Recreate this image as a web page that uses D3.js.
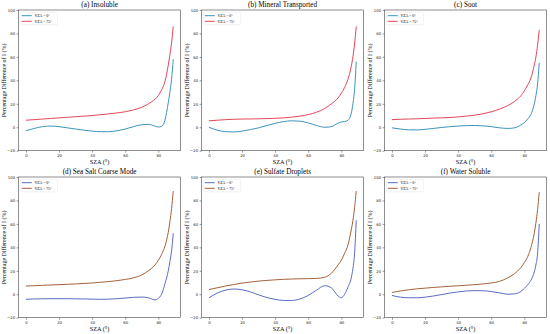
<!DOCTYPE html>
<html>
<head>
<meta charset="utf-8">
<script src="https://cdn.jsdelivr.net/npm/d3@7"></script>
<style>
  body { margin: 0; background: #fff; }
  svg { display: block; }
</style>
</head>
<body>
<script>
// SZA sample points shared by every panel
const sza = [0, 5, 10, 15, 20, 25, 30, 35, 40, 45, 50, 55, 60, 65, 70, 74, 78, 80, 82, 84, 86, 87, 88, 89];

const titles = ["(a) Insoluble", "(b) Mineral Transported", "(c) Soot",
                "(d) Sea Salt Coarse Mode", "(e) Sulfate Droplets", "(f) Water Soluble"];

const seriesNames = ["VZA = 0°", "VZA = 75°"];

// VZA = 0° curves
const insoluble0 = [-3, -1, 0.5, 1, 0.5, -0.5, -1.5, -2.5, -3.3, -3.8, -3.8, -3, -1.5, 0.5, 2.2, 2.5, 1, 0.2, 0.8, 6, 21, 30, 41, 58];
const mineral0   = [0, -2.5, -3.8, -4, -3.3, -2, -0.5, 1.5, 3.3, 4.8, 5.5, 5.2, 3.7, 1.5, 0, 0.5, 3.5, 4.5, 4.8, 6, 12, 20, 32, 56];
const soot0      = [-0.5, -1.5, -2.2, -2.3, -1.8, -1, -0.2, 0.5, 1, 1.4, 1.5, 1.2, 0.5, -0.5, -1, -0.5, 2, 4, 7, 11, 20, 27, 37, 55];
const seaSalt0   = [-4.3, -4, -3.9, -3.8, -3.8, -3.8, -3.9, -4, -4.2, -4.3, -4.2, -3.8, -3.2, -2.6, -2.4, -3, -4.8, -3.5, 0, 9, 20, 28, 37, 52];
const sulfate0   = [-3, 1, 3.5, 4.5, 3.8, 2, -0.5, -2.8, -4.3, -5.3, -5.3, -4, -1, 3.5, 7.3, 5.5, -1.5, -3, 0, 6, 14, 22, 35, 63];
const water0     = [-1, -2.5, -3, -3, -2.5, -1.5, -0.3, 1, 2, 2.8, 3.1, 3, 2.3, 1.2, 0, 0.3, 2.5, 5, 8, 12, 19, 25, 35, 60];

// VZA = 75° curves
const insoluble75 = [6, 6.5, 7, 7.5, 8, 8.5, 9, 9.5, 10, 10.7, 11.4, 12.2, 13.2, 14.8, 17, 20, 24, 27, 32, 39, 53, 62, 72, 86];
const mineral75   = [5.5, 6, 6.5, 6.8, 7, 7.1, 7.2, 7.4, 7.6, 8, 8.6, 9.5, 10.8, 12.8, 16, 20, 25, 29, 34, 41, 52, 60, 71, 86];
const soot75      = [6.5, 6.8, 7, 7.2, 7.5, 7.8, 8, 8.3, 8.8, 9.5, 10.3, 11.5, 13.2, 15.5, 18.5, 22, 27, 31, 36, 42, 53, 60, 70, 83];
const seaSalt75   = [7, 7.3, 7.6, 7.9, 8.2, 8.5, 8.8, 9.2, 9.6, 10.2, 10.8, 11.6, 12.6, 14, 16.5, 20, 25, 29, 34, 41, 53, 62, 73, 88];
const sulfate75   = [4, 5.5, 7, 8.3, 9.5, 10.4, 11.2, 11.8, 12.3, 12.7, 13, 13.2, 13.3, 13.5, 14.5, 18, 25, 29, 35, 42, 55, 63, 74, 88];
const water75     = [1.5, 2.8, 3.8, 4.6, 5.2, 5.8, 6.3, 6.8, 7.2, 7.7, 8.2, 8.8, 9.6, 11, 14, 17.5, 23, 27, 32, 40, 52, 61, 72, 87];

const vza0 = [insoluble0, mineral0, soot0, seaSalt0, sulfate0, water0];
const vza75 = [insoluble75, mineral75, soot75, seaSalt75, sulfate75, water75];

const xTicks = [0, 20, 40, 60, 80];
const yTicks = [-20, 0, 20, 40, 60, 80, 100];

// top row and bottom row use different palettes
const palettes = [["#3d93bd", "#e2475a"], ["#5a6cc4", "#a4623a"]];

const W = 550, H = 334;
const cellW = 183, cellH = 167;
const margin = {top: 10, right: 2.4, bottom: 16.3, left: 18.6};
const pw = cellW - margin.left - margin.right;
const ph = 150.7 - margin.top;

const svg = d3.select("body").append("svg")
  .attr("width", W)
  .attr("height", H);

var x = d3.scaleLinear().domain([-4.45, 93.45]).range([0, pw]);
var y = d3.scaleLinear().domain([-20, 100]).range([ph, 0]);

var line = d3.line()
  .x(function(d) { return x(d[0]); })
  .y(function(d) { return y(d[1]); })
  .curve(d3.curveMonotoneX);

titles.forEach(function(title, i) {
  var col = i % 3, row = Math.floor(i / 3);
  var colors = palettes[row];
  var g = svg.append("g")
    .attr("transform", "translate(" + (col * cellW + margin.left) + "," + (row * cellH + margin.top) + ")");

  // x axis
  var xa = g.append("g")
    .attr("transform", "translate(0," + ph + ")")
    .call(d3.axisBottom(x).tickValues(xTicks).tickSize(2).tickPadding(1.5));
  // y axis
  var ya = g.append("g")
    .call(d3.axisLeft(y).tickValues(yTicks).tickSize(2).tickPadding(1.5));

  [xa, ya].forEach(function(a) {
    a.select(".domain").remove();
    a.selectAll("line").attr("stroke", "#333").attr("stroke-width", 0.5);
    a.selectAll("text")
      .style("font-family", "'DejaVu Sans', sans-serif")
      .style("font-size", "3.8px")
      .attr("fill", "#222");
  });

  // frame
  g.append("rect")
    .attr("width", pw)
    .attr("height", ph)
    .attr("fill", "none")
    .attr("stroke", "#444")
    .attr("stroke-width", 0.6);

  [vza0[i], vza75[i]].forEach(function(vals, k) {
    g.append("path")
      .datum(sza.map(function(s, j) { return [s, vals[j]]; }))
      .attr("fill", "none")
      .attr("stroke", colors[k])
      .attr("stroke-width", 1)
      .attr("d", line);
  });

  // title
  g.append("text")
    .attr("x", pw / 2)
    .attr("y", -2.6)
    .attr("text-anchor", "middle")
    .style("font", "7.2px 'Liberation Serif', serif")
    .text(title);

  // axis labels
  g.append("text")
    .attr("x", pw / 2)
    .attr("y", ph + 13.5)
    .attr("text-anchor", "middle")
    .style("font", "6.2px 'Liberation Serif', serif")
    .text("SZA (°)");

  g.append("text")
    .attr("transform", "translate(" + (-12.2) + "," + (ph / 2) + ") rotate(-90)")
    .attr("text-anchor", "middle")
    .style("font", "6px 'Liberation Serif', serif")
    .text("Percentage Difference of I (%)");

  // legend
  var lg = g.append("g").attr("transform", "translate(2,2.3)");
  lg.append("rect")
    .attr("width", 37)
    .attr("height", 12.5)
    .attr("rx", 1)
    .attr("fill", "#fff")
    .attr("fill-opacity", 0.8)
    .attr("stroke", "#ddd")
    .attr("stroke-width", 0.4);
  seriesNames.forEach(function(name, k) {
    var ly = 3.4 + k * 5.6;
    lg.append("line")
      .attr("x1", 1.2).attr("x2", 11.2)
      .attr("y1", ly).attr("y2", ly)
      .attr("stroke", colors[k])
      .attr("stroke-width", 1);
    lg.append("text")
      .attr("x", 13.8)
      .attr("y", ly)
      .attr("dy", "0.35em")
      .style("font", "3.9px 'Liberation Serif', serif")
      .text(name);
  });
});
</script>
</body>
</html>
